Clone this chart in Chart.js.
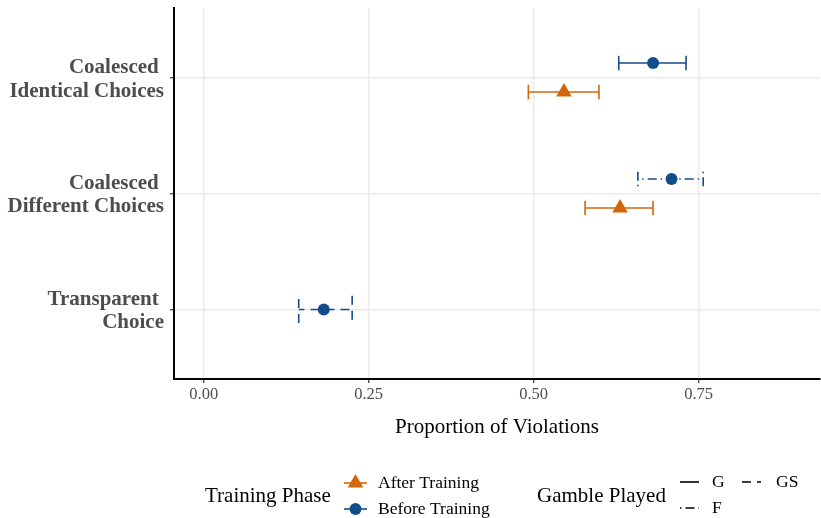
<!DOCTYPE html>
<html>
<head>
<meta charset="utf-8">
<script src="https://cdn.jsdelivr.net/npm/chart.js@4"></script>
<style>
  html, body { margin: 0; padding: 0; background: #ffffff; }
  #wrap { width: 821px; height: 518px; }
</style>
</head>
<body>
<div id="wrap"><canvas id="c" width="821" height="518"></canvas></div>
<script>
// ---------- data ----------
const categories = [["Transparent ", "Choice"], ["Coalesced ", "Different Choices"], ["Coalesced ", "Identical Choices"]];
const beforeMean = [0.182, 0.709, 0.681];
const beforeLow = [0.144, 0.658, 0.629];
const beforeHigh = [0.225, 0.757, 0.731];
const beforeGamble = ["GS", "F", "G"];
const afterMean = [null, 0.631, 0.546];
const afterLow = [null, 0.578, 0.492];
const afterHigh = [null, 0.681, 0.599];
const afterGamble = [null, "G", "G"];
const xTicks = [0, 0.25, 0.5, 0.75];
const phaseLabels = ["After Training", "Before Training"];
const gambleLabels = ["G", "GS", "F"];

// ---------- styles ----------
const BLUE = '#124d8b';
const ORANGE = '#d2660c';
const FONT = "'Liberation Serif', 'Times New Roman', serif";
const DODGE = 0.125;
const LINE_W = 1.6;
const dashes = {
  G:  { pattern: [], hOffset: 0 },
  GS: { pattern: [9, 6], hOffset: 12.3 },
  F:  { pattern: [1.5, 4, 9, 4], hOffset: 14.5 }
};

// build series with dodge
function buildSeries(mean, low, high, gamble, other, sign) {
  const pts = [];
  for (let i = 0; i < mean.length; i++) {
    if (mean[i] === null) continue;
    const both = other[i] !== null;
    const y = i + 1 + (both ? sign * DODGE : 0);
    pts.push({ x: mean[i], y: y, lo: low[i], hi: high[i], lt: gamble[i], cap: both ? 0.0625 : 0.118 });
  }
  return pts;
}
const beforePts = buildSeries(beforeMean, beforeLow, beforeHigh, beforeGamble, afterMean, 1);
const afterPts = buildSeries(afterMean, afterLow, afterHigh, afterGamble, beforeMean, -1);

function seg(ctx, x1, y1, x2, y2, lt, offset) {
  const d = dashes[lt];
  ctx.setLineDash(d.pattern);
  ctx.lineDashOffset = offset;
  ctx.beginPath();
  ctx.moveTo(x1, y1);
  ctx.lineTo(x2, y2);
  ctx.stroke();
}

const errorBarPlugin = {
  id: 'errorBars',
  beforeDatasetsDraw(chart) {
    const ctx = chart.ctx, xs = chart.scales.x, ys = chart.scales.y;
    chart.data.datasets.forEach(ds => {
      ctx.save();
      ctx.strokeStyle = ds.borderColor;
      ctx.lineWidth = LINE_W;
      ctx.lineCap = 'butt';
      ds.data.forEach(p => {
        const xl = xs.getPixelForValue(p.lo), xh = xs.getPixelForValue(p.hi);
        const yc = ys.getPixelForValue(p.y);
        const yt = ys.getPixelForValue(p.y + p.cap), yb = ys.getPixelForValue(p.y - p.cap);
        const d = dashes[p.lt];
        // horizontal, right to left
        seg(ctx, xh, yc, xl, yc, p.lt, d.hOffset);
        // left cap bottom->top, right cap top->bottom
        seg(ctx, xl, yb, xl, yt, p.lt, 0);
        seg(ctx, xh, yt, xh, yb, p.lt, 0);
      });
      ctx.restore();
    });
  }
};

const legendPlugin = {
  id: 'customLegend',
  afterDraw(chart) {
    const ctx = chart.ctx;
    ctx.save();
    ctx.fillStyle = '#000';
    ctx.textBaseline = 'middle';
    ctx.textAlign = 'left';
    ctx.font = `21px ${FONT}`;
    ctx.fillText('Training Phase', 205, 496);
    ctx.fillText('Gamble Played', 537, 496);

    ctx.font = `17.5px ${FONT}`;
    const phaseColors = [ORANGE, BLUE];
    const phaseY = [483, 509];
    phaseLabels.forEach((lab, i) => {
      const y = phaseY[i];
      ctx.strokeStyle = phaseColors[i];
      ctx.fillStyle = phaseColors[i];
      ctx.lineWidth = LINE_W;
      ctx.setLineDash([]);
      ctx.beginPath(); ctx.moveTo(344, y); ctx.lineTo(367, y); ctx.stroke();
      ctx.beginPath();
      if (i === 0) {
        const r = 9;
        ctx.moveTo(355.5, y - r);
        ctx.lineTo(355.5 + r * 0.866, y + r / 2);
        ctx.lineTo(355.5 - r * 0.866, y + r / 2);
        ctx.closePath();
      } else {
        ctx.arc(355.5, y, 6, 0, Math.PI * 2);
      }
      ctx.fill();
      ctx.fillStyle = '#000';
      ctx.fillText(lab, 378, y);
    });

    const gPos = { G: [680, 482, 712], GS: [742, 482, 776], F: [680, 508, 712] };
    ctx.strokeStyle = '#000';
    ctx.lineWidth = LINE_W;
    gambleLabels.forEach(lab => {
      const [x, y, tx] = gPos[lab];
      ctx.setLineDash(dashes[lab].pattern);
      ctx.lineDashOffset = 0;
      ctx.beginPath(); ctx.moveTo(x, y); ctx.lineTo(x + 19, y); ctx.stroke();
      ctx.setLineDash([]);
      ctx.fillStyle = '#000';
      ctx.fillText(lab, tx, y);
    });
    ctx.restore();
  }
};

new Chart(document.getElementById('c'), {
  type: 'scatter',
  data: {
    datasets: [
      { label: phaseLabels[0], data: afterPts, pointStyle: 'triangle', pointRadius: 9,
        backgroundColor: ORANGE, borderColor: ORANGE, borderWidth: 0 },
      { label: phaseLabels[1], data: beforePts, pointStyle: 'circle', pointRadius: 6,
        backgroundColor: BLUE, borderColor: BLUE, borderWidth: 0 }
    ]
  },
  options: {
    responsive: false,
    animation: false,
    events: [],
    layout: { autoPadding: false, padding: { top: 8, right: 1, left: 0, bottom: 70 } },
    plugins: { legend: { display: false }, tooltip: { enabled: false } },
    scales: {
      x: {
        type: 'linear', min: -0.045, max: 0.934,
        afterBuildTicks: s => { s.ticks = xTicks.map(v => ({ value: v })); },
        ticks: { callback: v => Number(v).toFixed(2), color: '#4d4d4d',
          font: { family: FONT, size: 16.5 }, padding: 2, maxRotation: 0, autoSkip: false },
        grid: { color: '#ebebeb', lineWidth: 1.5, tickColor: '#333333', tickLength: 4, tickWidth: 1.2 },
        border: { display: true, color: '#000000', width: 2 },
        title: { display: true, text: 'Proportion of Violations', color: '#000000',
          font: { family: FONT, size: 21 }, padding: { top: 0, bottom: 8 } },
        afterFit: s => { s.height = 69; s.paddingLeft = 0; s.paddingRight = 0; }
      },
      y: {
        type: 'linear', min: 0.4, max: 3.6,
        afterBuildTicks: s => { s.ticks = categories.map((c, i) => ({ value: i + 1 })); },
        ticks: { callback: v => categories[Math.round(v) - 1], color: '#4d4d4d',
          font: { family: FONT, size: 21, weight: 'bold', lineHeight: 1.1 }, padding: 6,
          labelOffset: 2, autoSkip: false },
        grid: { color: '#ebebeb', lineWidth: 1.5, tickColor: '#333333', tickLength: 4, tickWidth: 1.2 },
        border: { display: true, color: '#000000', width: 2 },
        afterFit: s => { s.width = 174; s.paddingTop = 0; s.paddingBottom = 0; }
      }
    }
  },
  plugins: [errorBarPlugin, legendPlugin]
});
</script>
</body>
</html>
